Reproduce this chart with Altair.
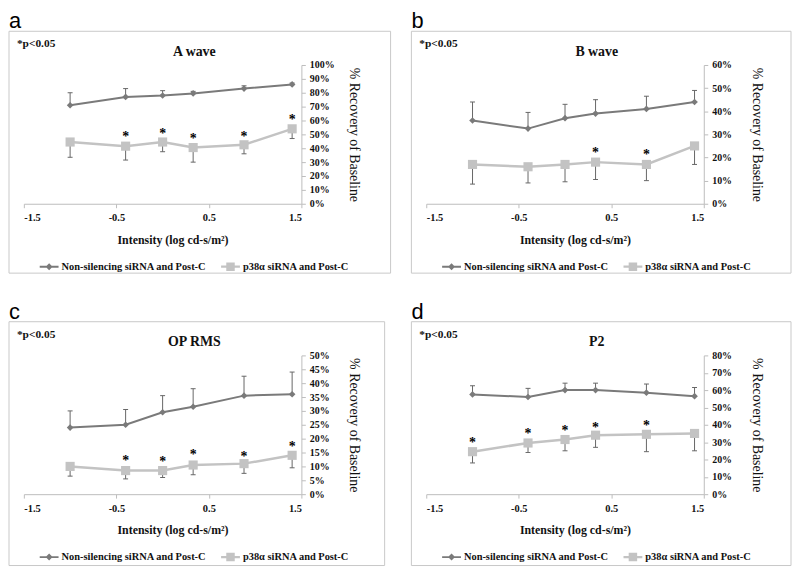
import altair as alt
import pandas as pd

# ---------------- data ----------------
x_vals = [-1.0, -0.4, 0.0, 0.33, 0.88, 1.4]
x_ticks = [-1.5, -0.5, 0.5, 1.5]
series_names = ["Non-silencing siRNA and Post-C", "p38α siRNA and Post-C"]

# panel a : A wave
a_ns = [71, 77, 78, 79.5, 83, 86]
a_ns_top = [80, 83, 81.5, 81, 85, 87]
a_p38 = [44.5, 41.5, 44.5, 40.5, 42.5, 54]
a_p38_bot = [33.5, 31.5, 37.5, 30, 36, 47]
a_star_x = [-0.4, 0.0, 0.33, 0.88, 1.4]
a_star_y = [53, 55.5, 51.5, 53, 65]

# panel b : B wave
b_ns = [36, 32.5, 37, 39, 41, 44]
b_ns_top = [44, 39.5, 43, 45, 46.5, 49]
b_p38 = [17, 16, 17, 18, 17, 25]
b_p38_bot = [8.5, 9, 9.5, 10.5, 10, 17]
b_star_x = [0.33, 0.88]
b_star_y = [25, 24]

# panel c : OP RMS
c_ns = [24, 25, 29.5, 31.5, 35.5, 36]
c_ns_top = [30, 30.5, 35.5, 38, 42.5, 44]
c_p38 = [10, 8.5, 8.5, 10.5, 11, 14]
c_p38_bot = [6.5, 5.5, 6, 7, 7.5, 9.5]
c_star_x = [-0.4, 0.0, 0.33, 0.88, 1.4]
c_star_y = [14.5, 14, 16.5, 16, 19.5]

# panel d : P2
d_ns = [57.5, 56, 60, 60, 58.5, 56.5]
d_ns_top = [62.5, 61, 64, 64, 63.5, 61.5]
d_p38 = [24.5, 29.5, 31.5, 34, 34.5, 35]
d_p38_bot = [18, 24, 25, 27, 24.5, 25]
d_star_x = [-1.0, -0.4, 0.0, 0.33, 0.88]
d_star_y = [33.5, 38.5, 40.5, 42, 43.5]

panels = [
    dict(letter="a", title="A wave", ymax=100, ystep=10, ns=a_ns, ns_top=a_ns_top,
         p38=a_p38, p38_bot=a_p38_bot, sx=a_star_x, sy=a_star_y, fr=90, fb=70),
    dict(letter="b", title="B wave", ymax=60, ystep=10, ns=b_ns, ns_top=b_ns_top,
         p38=b_p38, p38_bot=b_p38_bot, sx=b_star_x, sy=b_star_y, fr=88, fb=70),
    dict(letter="c", title="OP RMS", ymax=50, ystep=5, ns=c_ns, ns_top=c_ns_top,
         p38=c_p38, p38_bot=c_p38_bot, sx=c_star_x, sy=c_star_y, fr=84, fb=72),
    dict(letter="d", title="P2", ymax=80, ystep=10, ns=d_ns, ns_top=d_ns_top,
         p38=d_p38, p38_bot=d_p38_bot, sx=d_star_x, sy=d_star_y, fr=88, fb=72),
]

# ---------------- style ----------------
W, H = 280, 140
DARK = "#7a7a7a"
LIGHT = "#c3c3c3"
ERR = "#666666"
AXC = "#bdbdbd"
FRAME = "#c8c8c8"
TXT = "#111111"
SERIF = "Liberation Serif"
SANS = "Liberation Sans"

PATH_D = "M-1,-0.1L1,-0.1L1,0.1L-1,0.1Z M0,-0.37L0.37,0L0,0.37L-0.37,0Z"
PATH_S = "M-1,-0.12L1,-0.12L1,0.12L-1,0.12Z M-0.45,-0.45L0.45,-0.45L0.45,0.45L-0.45,0.45Z"

one = pd.DataFrame({"k": [0]})


def panel(p):
    ns_df = pd.DataFrame({"x": x_vals, "value": p["ns"], "err": p["ns_top"]})
    p_df = pd.DataFrame({"x": x_vals, "value": p["p38"], "err": p["p38_bot"]})
    star_df = pd.DataFrame({"x": p["sx"], "value": p["sy"]})

    xax = alt.Axis(values=x_ticks, labelExpr="'' + datum.value",
                   title="Intensity (log cd-s/m²)", grid=False,
                   domainColor=AXC, tickColor=AXC, tickSize=4, labelPadding=5,
                   labelFont=SERIF, labelFontWeight="bold", labelFontSize=10.5,
                   labelColor=TXT, labelAngle=0,
                   titleFont=SERIF, titleFontWeight="bold", titleFontSize=12,
                   titleColor=TXT, titleX=150, titleY=40, titleBaseline="alphabetic")
    yax = alt.Axis(orient="right", values=list(range(0, p["ymax"] + 1, p["ystep"])),
                   labelExpr="datum.value + '%'", title="% Recovery of Baseline",
                   grid=False, domainColor=AXC, tickColor=AXC, tickSize=4,
                   labelPadding=4, labelFont=SERIF, labelFontWeight="bold",
                   labelFontSize=10, labelColor=TXT,
                   titleFont=SERIF, titleFontWeight="normal", titleFontSize=14,
                   titleColor=TXT, titleAngle=90, titleX=53, titleY=H / 2,
                   titleAlign="center", titleBaseline="middle")
    xs = alt.Scale(domain=[-1.5, 1.5], nice=False, zero=False)
    ys = alt.Scale(domain=[0, p["ymax"]], nice=False)
    X = alt.X("x:Q", scale=xs, axis=xax)
    Y = alt.Y("value:Q", scale=ys, axis=yax)
    YE = alt.Y("err:Q", scale=ys, axis=yax)

    frame = alt.Chart(one).mark_rect(fill="transparent", stroke=FRAME, strokeWidth=1).encode(
        x=alt.value(-15), x2=alt.value(W + p["fr"]), y=alt.value(-34), y2=alt.value(H + p["fb"]))

    layers = [frame]
    for df in [ns_df, p_df]:
        base = alt.Chart(df)
        layers.append(base.mark_rule(color=ERR, strokeWidth=1).encode(x=X, y=Y, y2="err:Q"))
        layers.append(base.mark_tick(color=ERR, orient="horizontal", size=5, thickness=1,
                                     opacity=1).encode(x=X, y=YE))
    for df, lc, sw in [(ns_df, DARK, 2), (p_df, LIGHT, 2.5)]:
        layers.append(alt.Chart(df).mark_line(color=lc, strokeWidth=sw).encode(x=X, y=Y))
    layers.append(alt.Chart(ns_df).mark_point(shape="diamond", filled=True, size=45,
                                              color=DARK, opacity=1).encode(x=X, y=Y))
    layers.append(alt.Chart(p_df).mark_point(shape="square", filled=True, size=85,
                                             color=LIGHT, opacity=1).encode(x=X, y=Y))
    layers.append(alt.Chart(star_df).mark_text(text="*", font=SERIF, fontWeight="bold",
                                               fontSize=14, dy=7, color="#000").encode(x=X, y=Y))

    layers.append(alt.Chart(one).mark_text(text=p["letter"], font=SANS, fontSize=22,
                                           align="left", baseline="top", color="#000").encode(
        x=alt.value(-15), y=alt.value(-54)))
    layers.append(alt.Chart(one).mark_text(text="*p<0.05", font=SERIF, fontWeight="bold",
                                           fontSize=11.5, align="left", color=TXT).encode(
        x=alt.value(-7), y=alt.value(-21)))
    layers.append(alt.Chart(one).mark_text(text=p["title"], font=SERIF, fontWeight="bold",
                                           fontSize=14, align="center", color=TXT).encode(
        x=alt.value(172), y=alt.value(-13)))

    legend = alt.Legend(title=None, orient="none", legendX=16, legendY=H + 54,
                        direction="horizontal", symbolSize=361, symbolStrokeWidth=0,
                        labelFont=SERIF, labelFontWeight="bold", labelFontSize=10.5,
                        labelColor=TXT, columnPadding=14, labelOffset=3)
    leg = alt.Chart(pd.DataFrame({"series": series_names})).transform_filter("false").mark_point(
        filled=True, opacity=1).encode(
        color=alt.Color("series:N", scale=alt.Scale(domain=series_names, range=[DARK, LIGHT]),
                        legend=legend),
        shape=alt.Shape("series:N", scale=alt.Scale(domain=series_names, range=[PATH_D, PATH_S]),
                        legend=legend))
    layers.append(leg)

    return alt.layer(*layers).properties(width=W, height=H)


chart = alt.concat(*[panel(p) for p in panels], columns=2, bounds="flush",
                   spacing={"row": 153, "column": 126}).resolve_scale(
    color="independent", shape="independent").resolve_legend(
    color="independent", shape="independent").properties(padding=0).configure_view(strokeWidth=0)

chart.save("out.html", embed_options={"renderer": "svg", "actions": False})
